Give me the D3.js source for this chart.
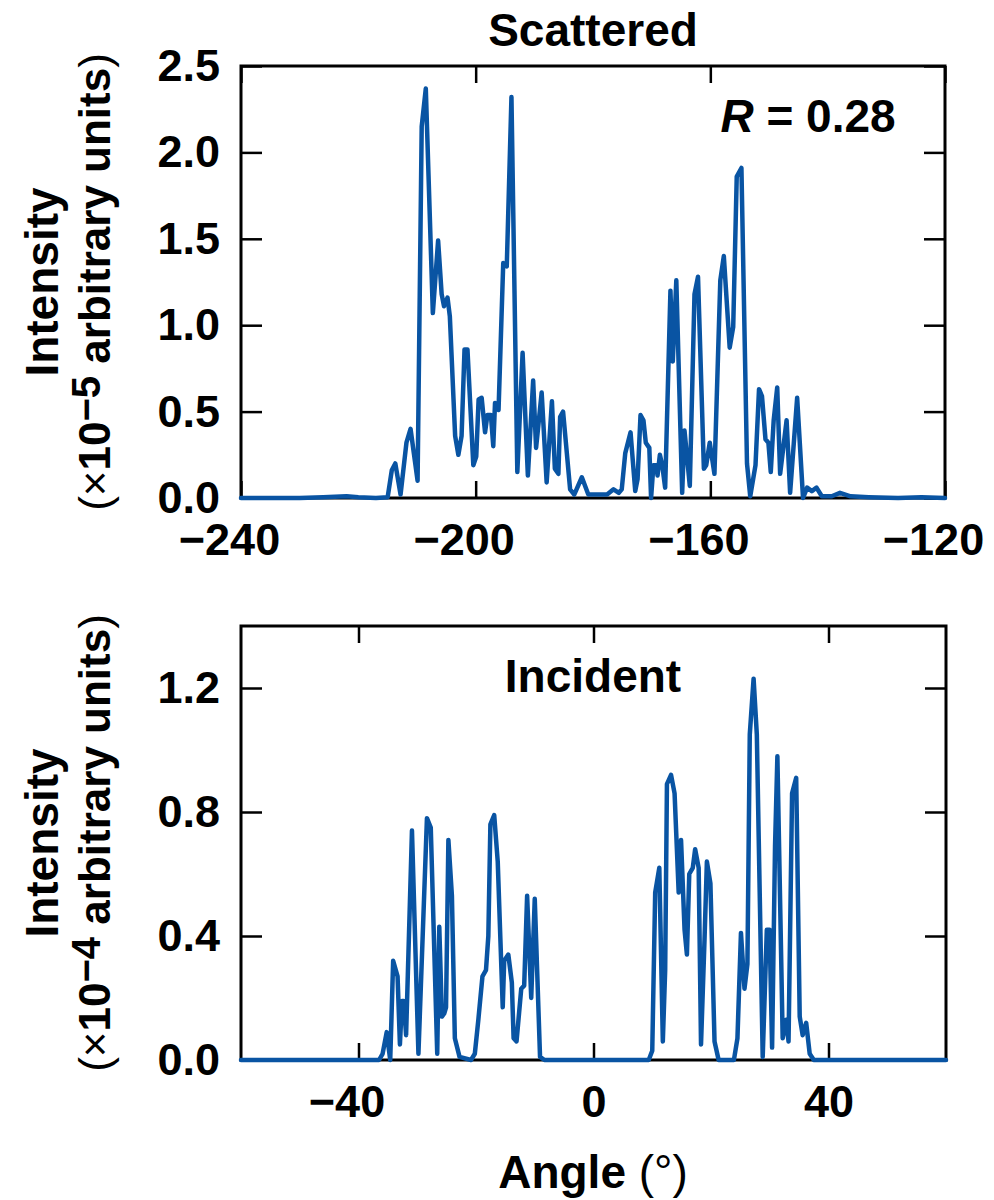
<!DOCTYPE html>
<html>
<head>
<meta charset="utf-8">
<script src="https://cdn.jsdelivr.net/npm/d3@7"></script>
<style>
  html, body { margin: 0; padding: 0; background: #fff; }
  svg text { font-family: "Liberation Sans", Arial, Helvetica, sans-serif; font-weight: bold; fill: #000; }
</style>
</head>
<body>
<svg id="chart" width="994" height="1200"></svg>
<script>
// ---------- DATA ----------
const scatAngle = [-240,-235,-230,-226,-222,-220,-217,-215,
  -214.3,-213.7,-212.8,-211.8,-211.1,-209.9,-209.2,-208.5,-207.3,-206.4,-205.8,-205.4,-204.8,-204.4,
  -203.5,-202.95,-202.4,-201.9,-201.4,-200.4,-199.9,-199.5,-198.98,-198.4,-198.0,-197.4,-197.0,-196.7,
  -196.1,-195.3,-194.7,-193.9,-192.9,-192.0,-191.1,-190.2,-189.7,-188.75,-187.9,-187.0,-186.5,-185.9,
  -185.6,-185.1,-183.9,-183.2,-181.9,-180.8,-178.8,-177.6,-176.5,-175.6,-175.1,-174.5,-173.6,-172.8,
  -172.4,-171.9,-171.4,-171.0,-170.4,-170.1,-169.7,-169.2,-169.0,-168.6,-168.2,-167.7,-166.8,-166.4,
  -165.8,-164.8,-164.4,-163.5,-162.7,-162.1,-161.1,-160.7,-160.1,-159.3,-158.3,-157.7,-156.7,-156.1,
  -155.5,-154.7,-153.75,-153.2,-152.3,-151.7,-151.2,-150.6,-150.1,-149.7,-149.2,-148.6,-148.1,-147.0,
  -146.4,-145.2,-144.2,-143.5,-142.7,-141.9,-141.0,-139.3,-137.9,-136.1,-133,-128,-124,-120];
const scatIntensity = [0,0,0,0.005,0.01,0.005,0,0.005,
  0.16,0.20,0.02,0.32,0.40,0.10,2.15,2.37,1.07,1.49,1.18,1.11,1.16,1.05,
  0.36,0.25,0.36,0.86,0.86,0.19,0.24,0.57,0.58,0.38,0.48,0.48,0.30,0.55,
  0.51,1.36,1.34,2.32,0.15,0.84,0.13,0.68,0.29,0.61,0.09,0.56,0.17,0.14,
  0.47,0.50,0.05,0.02,0.12,0.02,0.02,0.02,0.05,0.03,0.05,0.26,0.38,0.04,
  0.11,0.48,0.45,0.32,0.29,0.00,0.19,0.19,0.13,0.25,0.19,0.06,1.20,0.79,
  1.26,0.03,0.39,0.07,1.18,1.28,0.17,0.19,0.32,0.14,1.26,1.40,0.87,0.99,
  1.86,1.91,0.20,0.01,0.19,0.63,0.59,0.34,0.32,0.15,0.45,0.64,0.14,0.45,
  0.03,0.58,0.00,0.06,0.04,0.06,0.01,0.01,0.03,0.01,0.005,0,0.005,0];

const incAngle = [-60,-45,-36.5,-35.9,-35.2,-34.6,-34.1,-33.35,-32.95,-32.6,-32.3,-31.9,-30.9,-29.8,
  -28.35,-27.7,-26.6,-26.25,-25.8,-25.4,-25.1,-24.7,-24.1,-23.6,-22.8,-20.85,-20.2,-19.6,-18.9,-18.3,
  -17.9,-17.55,-16.9,-16.3,-15.85,-15.45,-15.2,-14.5,-13.9,-13.6,-13.1,-12.3,-11.8,-11.3,-10.6,-10.0,
  -9.1,-8.35,0,9.4,10.0,10.5,11.2,11.8,12.2,12.5,13.2,13.8,14.5,14.9,15.5,15.9,16.3,16.9,17.3,17.9,
  18.3,18.9,19.3,19.9,20.6,21.3,23.9,24.5,25.1,25.7,26.2,26.6,27.25,27.8,28.8,29.5,29.97,30.4,30.9,
  31.3,32.2,32.8,33.2,33.8,34.5,35.1,35.6,36.2,36.8,37.5,60];
const incIntensity = [0,0,0,0.02,0.09,0.00,0.32,0.27,0.05,0.19,0.19,0.08,0.74,0.02,
  0.78,0.75,0.02,0.43,0.14,0.15,0.17,0.71,0.53,0.07,0.01,0,0.02,0.13,0.27,0.29,
  0.40,0.76,0.79,0.64,0.39,0.17,0.32,0.34,0.25,0.07,0.06,0.23,0.24,0.53,0.20,0.52,
  0.01,0,0,0,0.03,0.54,0.62,0.06,0.29,0.89,0.92,0.86,0.54,0.71,0.42,0.34,0.60,0.62,0.68,0.62,
  0.05,0.39,0.64,0.57,0.06,0.00,0,0.07,0.41,0.23,0.31,1.05,1.23,1.05,0.01,0.42,0.42,0.04,0.69,
  0.98,0.07,0.13,0.06,0.86,0.91,0.14,0.08,0.12,0.02,0,0];

const scatXTicks = [-240,-200,-160,-120];
const scatYTicks = [0.0,0.5,1.0,1.5,2.0,2.5];
const incXTicks = [-40,0,40];
const incYTicks = [0.0,0.4,0.8,1.2];

// ---------- DRAW ----------
const svg = d3.select("#chart");
const LINE = "#0954a3";
const minus = s => s.replace("-", "\u2212");

function panel(cfg) {
  const {x0,x1,y0,y1,xDomain,yDomain,angle,vals,xTicks,yTicks,yFmt} = cfg;
  const x = d3.scaleLinear().domain(xDomain).range([x0,x1]);
  const y = d3.scaleLinear().domain(yDomain).range([y1,y0]);
  const g = svg.append("g");

  const styleAxis = sel => {
    sel.select(".domain").remove();
    sel.selectAll(".tick line").attr("stroke","#000").attr("stroke-width",2.5);
    sel.selectAll("text").attr("font-size",45).attr("font-family","'Liberation Sans', Arial, sans-serif").attr("font-weight","bold").attr("fill","#000");
  };

  g.append("g").attr("transform",`translate(0,${y1})`)
    .call(d3.axisBottom(x).tickValues(xTicks).tickSize(-17).tickSizeOuter(0).tickPadding(25)
      .tickFormat(d => minus(d3.format("d")(d))))
    .call(styleAxis)
    .call(s => s.selectAll(".tick text").attr("dx", d => d < 0 ? -12 : 0));
  g.append("g").attr("transform",`translate(0,${y0})`)
    .call(d3.axisTop(x).tickValues(xTicks).tickSize(-17).tickSizeOuter(0).tickFormat(""))
    .call(styleAxis);
  g.append("g").attr("transform",`translate(${x0},0)`)
    .call(d3.axisLeft(y).tickValues(yTicks).tickSize(-21).tickSizeOuter(0).tickPadding(21)
      .tickFormat(d3.format(yFmt)))
    .call(styleAxis);
  g.append("g").attr("transform",`translate(${x1},0)`)
    .call(d3.axisRight(y).tickValues(yTicks).tickSize(-21).tickSizeOuter(0).tickFormat(""))
    .call(styleAxis);

  g.append("rect").attr("x",x0).attr("y",y0).attr("width",x1-x0).attr("height",y1-y0)
    .attr("fill","none").attr("stroke","#000").attr("stroke-width",3);

  const pts = angle.map((a,i) => [a, vals[i]]);
  g.append("path").datum(pts)
    .attr("d", d3.line().x(d => x(d[0])).y(d => y(d[1])))
    .attr("fill","none").attr("stroke",LINE).attr("stroke-width",4.5)
    .attr("stroke-linejoin","round").attr("stroke-linecap","round");
  return {x,y,g};
}

function yTitle(cx, cy, exp) {
  svg.append("text").attr("transform",`translate(${cx},${cy}) rotate(-90)`)
    .attr("text-anchor","middle").attr("font-size",46).text("Intensity");
  const t2 = svg.append("text").attr("transform",`translate(${cx+52},${cy}) rotate(-90)`)
    .attr("text-anchor","middle").attr("font-size",44);
  t2.append("tspan").attr("font-weight","normal").text("(\u00d7");
  t2.append("tspan").text("10");
  t2.append("tspan").attr("dy",-10).attr("font-size",40).text("\u2212" + exp);
  t2.append("tspan").attr("dy",10).text(" arbitrary units");
  t2.append("tspan").attr("font-weight","normal").text(")");
}

panel({x0:241,x1:945,y0:66,y1:498,xDomain:[-240,-120],yDomain:[0,2.5],
  angle:scatAngle,vals:scatIntensity,xTicks:scatXTicks,yTicks:scatYTicks,yFmt:".1f"});
panel({x0:241,x1:946,y0:626,y1:1060,xDomain:[-60,60],yDomain:[0,1.4],
  angle:incAngle,vals:incIntensity,xTicks:incXTicks,yTicks:incYTicks,yFmt:".1f"});

yTitle(58, 282, "5");
yTitle(58, 843, "4");

svg.append("text").attr("x",593).attr("y",46).attr("text-anchor","middle").attr("font-size",46).text("Scattered");
const r = svg.append("text").attr("x",808).attr("y",132).attr("text-anchor","middle").attr("font-size",46);
r.append("tspan").attr("font-style","italic").text("R");
r.append("tspan").text(" = 0.28");
svg.append("text").attr("x",593).attr("y",692).attr("text-anchor","middle").attr("font-size",46).text("Incident");
const xl = svg.append("text").attr("x",593).attr("y",1188).attr("text-anchor","middle").attr("font-size",46);
xl.append("tspan").text("Angle ");
xl.append("tspan").attr("font-weight","normal").text("(\u00b0)");
</script>
</body>
</html>
